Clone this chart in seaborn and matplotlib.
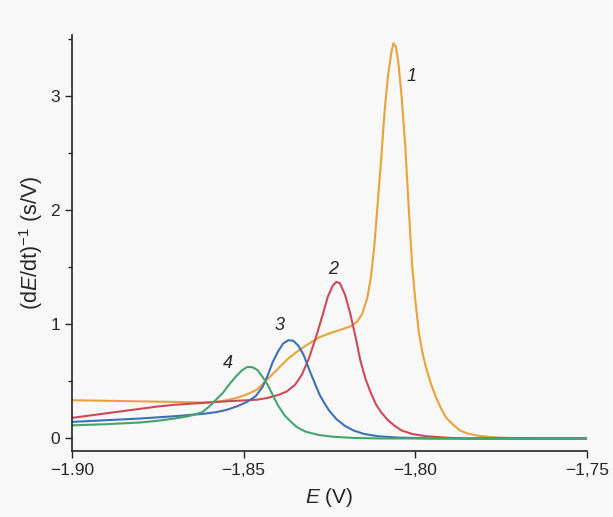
import numpy as np
import pandas as pd
import seaborn as sns
import matplotlib.pyplot as plt
from matplotlib.ticker import MultipleLocator

# Curve 1 (orange)
x1 = [-1.900, -1.890, -1.880, -1.870, -1.862, -1.858, -1.855, -1.852, -1.849, -1.846,
      -1.843, -1.840, -1.837, -1.834, -1.831, -1.828, -1.825, -1.822, -1.819, -1.817,
      -1.8155, -1.814, -1.813, -1.812, -1.811, -1.810, -1.809, -1.808, -1.807, -1.8064,
      -1.8057, -1.805, -1.804, -1.803, -1.802, -1.801, -1.800, -1.799, -1.798, -1.797,
      -1.7955, -1.794, -1.7925, -1.791, -1.789, -1.787, -1.785, -1.782, -1.778, -1.772,
      -1.765, -1.750]
y1 = [0.335, 0.33, 0.325, 0.32, 0.315, 0.32, 0.335, 0.355, 0.385, 0.43,
      0.52, 0.61, 0.70, 0.77, 0.83, 0.885, 0.92, 0.95, 0.98, 1.02,
      1.09, 1.23, 1.40, 1.67, 2.05, 2.43, 2.85, 3.17, 3.38, 3.46,
      3.43, 3.30, 2.99, 2.58, 2.05, 1.53, 1.20, 0.93, 0.76, 0.63,
      0.48, 0.36, 0.26, 0.18, 0.12, 0.07, 0.045, 0.025, 0.012, 0.004,
      0.0, 0.0]

# Curve 2 (red)
x2 = [-1.900, -1.895, -1.890, -1.885, -1.880, -1.875, -1.870, -1.865, -1.860, -1.855,
      -1.850, -1.846, -1.843, -1.840, -1.8375, -1.835, -1.833, -1.831, -1.829, -1.827,
      -1.8255, -1.824, -1.823, -1.822, -1.8205, -1.819, -1.8175, -1.816, -1.8145, -1.813,
      -1.8115, -1.810, -1.808, -1.806, -1.804, -1.801, -1.797, -1.790, -1.785, -1.750]
y2 = [0.18, 0.20, 0.22, 0.24, 0.26, 0.28, 0.295, 0.305, 0.315, 0.325,
      0.333, 0.34, 0.355, 0.38, 0.41, 0.47, 0.56, 0.70, 0.88, 1.08,
      1.24, 1.34, 1.37, 1.36, 1.26, 1.10, 0.90, 0.68, 0.52, 0.40,
      0.30, 0.23, 0.16, 0.11, 0.07, 0.04, 0.02, 0.005, 0.0, 0.0]

# Curve 3 (blue)
x3 = [-1.900, -1.890, -1.880, -1.870, -1.862, -1.858, -1.855, -1.852, -1.849, -1.8465,
      -1.8445, -1.843, -1.8415, -1.840, -1.8385, -1.837, -1.8355, -1.834, -1.8325, -1.831,
      -1.8295, -1.828, -1.8265, -1.825, -1.823, -1.8205, -1.818, -1.815, -1.811, -1.805,
      -1.795, -1.750]
y3 = [0.145, 0.16, 0.175, 0.195, 0.215, 0.23, 0.25, 0.28, 0.32, 0.37,
      0.45, 0.55, 0.67, 0.76, 0.83, 0.86, 0.855, 0.81, 0.73, 0.61,
      0.50, 0.39, 0.31, 0.24, 0.17, 0.11, 0.07, 0.04, 0.02, 0.008,
      0.0, 0.0]

# Curve 4 (green)
x4 = [-1.900, -1.890, -1.880, -1.875, -1.870, -1.866, -1.862, -1.860, -1.858, -1.856,
      -1.854, -1.852, -1.8505, -1.849, -1.8475, -1.846, -1.8445, -1.843, -1.8415, -1.840,
      -1.838, -1.836, -1.8345, -1.832, -1.828, -1.824, -1.818, -1.810, -1.750]
y4 = [0.115, 0.125, 0.14, 0.155, 0.175, 0.195, 0.23, 0.28, 0.34, 0.40,
      0.48, 0.55, 0.595, 0.625, 0.625, 0.60, 0.54, 0.47, 0.38, 0.29,
      0.20, 0.14, 0.10, 0.06, 0.03, 0.015, 0.005, 0.0, 0.0]

curve_names = ["1", "2", "3", "4"]
colors = ["#e9a23b", "#cc4a55", "#3f6fb8", "#45a46d"]
xtick_vals = [-1.90, -1.85, -1.80, -1.75]
xtick_labels = ["\u22121.90", "\u22121,85", "\u22121,80", "\u22121,75"]
ytick_vals = [0, 1, 2, 3]

# peak labels
label_x = [-1.8012, -1.8239, -1.8395, -1.8547]
label_y = [3.17, 1.48, 0.99, 0.66]

df = pd.concat([
    pd.DataFrame({"E": x, "val": y, "curve": n})
    for x, y, n in zip([x1, x2, x3, x4], [y1, y2, y3, y4], curve_names)
])

sns.set_style("ticks")
plt.rcParams["font.family"] = ["Liberation Sans", "DejaVu Sans"]
plt.rcParams["mathtext.fontset"] = "custom"
plt.rcParams["mathtext.rm"] = "Liberation Sans"
plt.rcParams["mathtext.it"] = "Liberation Sans:italic"

fig = plt.figure(figsize=(6.13, 5.17), dpi=100)
fig.patch.set_facecolor("#f9f8f8")
ax = fig.add_axes([0.117, 0.128, 0.841, 0.804])
ax.set_facecolor("#f9f8f8")

sns.lineplot(data=df, x="E", y="val", hue="curve", palette=colors,
             sort=False, estimator=None, linewidth=1.5, legend=False, ax=ax)

for name, lx, ly in zip(curve_names, label_x, label_y):
    ax.text(lx, ly, name, fontsize=13, style="italic", ha="center", va="center")

ax.set_xlim(-1.90, -1.75)
ax.set_ylim(-0.108, 3.53)
ax.set_xticks(xtick_vals)
ax.set_xticklabels(xtick_labels)
ax.set_yticks(ytick_vals)
ax.yaxis.set_minor_locator(MultipleLocator(0.5))
ax.tick_params(axis="both", which="major", labelsize=12.5, length=5, width=1, direction="out")
ax.tick_params(axis="y", which="minor", length=3, width=1)
ax.set_xlabel("$E$ (V)", fontsize=15, labelpad=6)
ax.set_ylabel("(d$E$/dt)$^{-1}$ (s/V)", fontsize=15.5, labelpad=4)
sns.despine(ax=ax)
for s in ["left", "bottom"]:
    ax.spines[s].set_linewidth(1.2)

fig.savefig("out.png", dpi=100, facecolor=fig.get_facecolor())
